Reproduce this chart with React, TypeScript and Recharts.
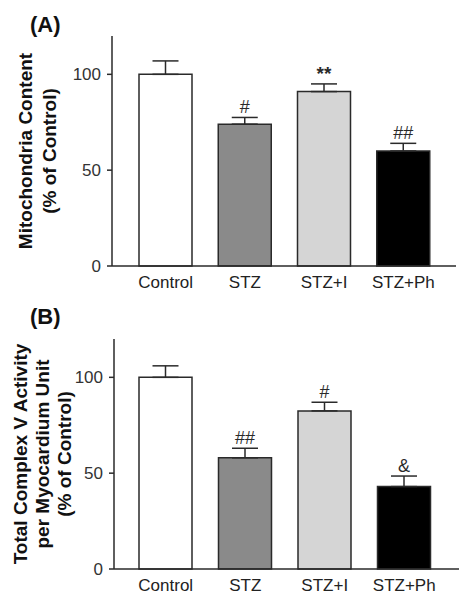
import React from "react";
import {
  BarChart,
  Bar,
  XAxis,
  YAxis,
  ErrorBar,
  Cell,
  LabelList,
} from "recharts";

const groups = ["Control", "STZ", "STZ+I", "STZ+Ph"];

const mitoValues = [100, 74, 91, 60];
const mitoErrors = [7, 3.5, 4, 4];
const mitoMarks = ["", "#", "**", "##"];

const complexValues = [100, 58, 82.5, 43];
const complexErrors = [6, 5, 4.5, 5.5];
const complexMarks = ["", "##", "#", "&"];

const yTicks = [0, 50, 100];

const fills = ["#ffffff", "#8a8a8a", "#d5d5d5", "#000000"];
const FONT = "'Liberation Sans', Arial, Helvetica, sans-serif";
const INK = "#2a2a2a";

type Row = { group: string; value: number; err: [number, number] };

type PanelProps = {
  tag: string;
  values: number[];
  errors: number[];
  marks: string[];
  labelLines: string[];
  labelX: number[];
  top: number;
  height: number;
  margin: { top: number; right: number; bottom: number; left: number };
  yWidth: number;
  pad: { left: number; right: number };
  tagY: number;
};

const Panel = (p: PanelProps) => {
  const data: Row[] = groups.map((g, i) => ({
    group: g,
    value: p.values[i],
    err: [0, p.errors[i]],
  }));

  // significance mark sits just above the error bar cap
  const renderMark = (props: any) => {
    const vb = props.viewBox ?? props;
    const { x, y, width, height } = vb;
    const index = props.index;
    const mark = p.marks[index];
    if (!mark) return null;
    const h = Math.abs(height);
    const barTop = Math.min(y, y + height);
    const perUnit = h / p.values[index];
    const capY = barTop - p.errors[index] * perUnit;
    return (
      <text
        x={x + width / 2}
        y={capY - 4}
        textAnchor="middle"
        fontSize={mark === "**" ? 19 : 18}
        fontFamily={FONT}
        fontWeight={mark === "**" ? "bold" : "normal"}
        fill={INK}
      >
        {mark}
      </text>
    );
  };

  const cy = p.margin.top + (p.height - p.margin.top - p.margin.bottom - 30) / 2;

  return (
    <div style={{ position: "absolute", left: 0, top: p.top }}>
      <BarChart
        width={466}
        height={p.height}
        data={data}
        margin={p.margin}
        barSize={53}
      >
        <text
          x={30}
          y={p.tagY}
          fontSize={22}
          fontWeight="bold"
          fontFamily={FONT}
          fill="#111"
        >
          {p.tag}
        </text>
        {p.labelLines.map((line, i) => (
          <text
            key={line}
            x={p.labelX[i]}
            y={cy}
            transform={`rotate(-90 ${p.labelX[i]} ${cy})`}
            textAnchor="middle"
            dominantBaseline="central"
            fontSize={19}
            fontWeight="bold"
            fontFamily={FONT}
            fill="#111"
          >
            {line}
          </text>
        ))}
        <XAxis
          dataKey="group"
          height={30}
          padding={p.pad}
          tickLine={false}
          tickMargin={4}
          axisLine={{ stroke: INK, strokeWidth: 1.5 }}
          tick={{ fill: "#222", fontSize: 17, fontFamily: FONT }}
        />
        <YAxis
          width={p.yWidth}
          domain={[0, 120]}
          ticks={yTicks}
          tickSize={5}
          tickMargin={6}
          axisLine={{ stroke: INK, strokeWidth: 1.5 }}
          tickLine={{ stroke: INK, strokeWidth: 1.5 }}
          tick={{ fill: "#333", fontSize: 17, fontFamily: FONT }}
        />
        <Bar
          dataKey="value"
          stroke={INK}
          strokeWidth={1.5}
          isAnimationActive={false}
        >
          {data.map((d, i) => (
            <Cell key={d.group} fill={fills[i]} />
          ))}
          <ErrorBar
            dataKey="err"
            width={13}
            stroke={INK}
            strokeWidth={1.5}
            isAnimationActive={false}
          />
          <LabelList dataKey="value" content={renderMark} />
        </Bar>
      </BarChart>
    </div>
  );
};

export default function App() {
  return (
    <div
      style={{
        position: "absolute",
        left: 0,
        top: 0,
        width: 466,
        height: 601,
        background: "#fff",
      }}
    >
      <Panel
        tag="(A)"
        values={mitoValues}
        errors={mitoErrors}
        marks={mitoMarks}
        labelLines={["Mitochondria Content", "(% of Control)"]}
        labelX={[25, 49]}
        top={0}
        height={300}
        margin={{ top: 36, right: 10, bottom: 4, left: 0 }}
        yWidth={112}
        pad={{ left: 14, right: 13 }}
        tagY={32}
      />
      <Panel
        tag="(B)"
        values={complexValues}
        errors={complexErrors}
        marks={complexMarks}
        labelLines={[
          "Total Complex V Activity",
          "per Myocardium Unit",
          "(% of Control)",
        ]}
        labelX={[20, 42, 64]}
        top={300}
        height={301}
        margin={{ top: 39, right: 7, bottom: 2, left: 0 }}
        yWidth={114}
        pad={{ left: 12, right: 15 }}
        tagY={24}
      />
    </div>
  );
}
